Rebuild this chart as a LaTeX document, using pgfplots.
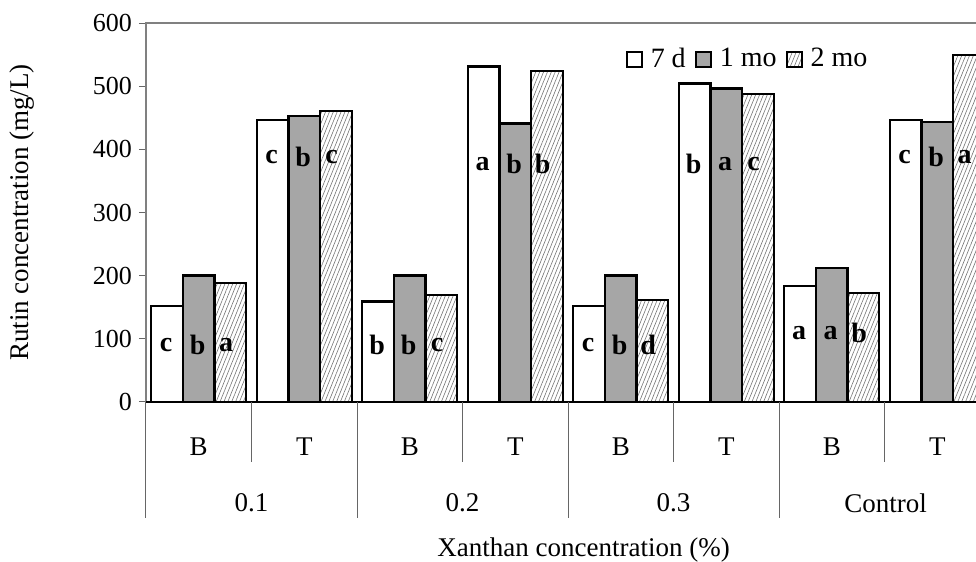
\documentclass[border=0pt]{standalone}
\usepackage{pgfplots}
\pgfplotsset{compat=1.18}
\usepackage{fontspec}
\setmainfont{Liberation Serif}
\usetikzlibrary{patterns.meta}
\definecolor{barGray}{RGB}{166,166,166}
\begin{document}
\begin{tikzpicture}
\begin{axis}[
  name=ax, at={(0,0)}, anchor=south west,
  scale only axis, width=416pt, height=189.5pt,
  xmin=-0.5, xmax=7.386, ymin=0, ymax=600,
  ytick={0,100,...,600}, xtick=\empty,
  ytick pos=left, tick align=outside, major tick length=3.5pt,
  every tick/.style={black!60, line width=0.5pt},
  axis line style={black!50, line width=0.6pt},
  /pgf/number format/assume math mode=true,
  yticklabel style={font=\fontsize{13}{15}\selectfont},
  clip mode=individual,
  ylabel={Rutin concentration (mg/L)},
  xlabel={Xanthan concentration (\%)},
  every axis y label/.style={at={(axis description cs:-0.149,0.5)}, rotate=90, anchor=center, font=\fontsize{13.5}{16}\selectfont},
  every axis x label/.style={at={(axis description cs:0.526,-0.3905)}, anchor=center, font=\fontsize{13.5}{16}\selectfont},
  legend columns=3,
  legend style={at={(0.723,0.905)}, anchor=center, draw=none, fill=none,
    font=\fontsize{14}{16}\selectfont, inner sep=0pt,
    /tikz/every even column/.append style={column sep=3.5pt},
    nodes={inner sep=1pt}},
  legend image code/.code={\draw[#1, line width=1pt] (0pt,-3.75pt) rectangle (7.5pt,3.75pt);},
]
\addplot[ybar, bar width=0.3, bar shift=-0.3, draw=black, line width=1.2pt, fill=white]
  coordinates {(0,152) (1,446) (2,159) (3,531) (4,152) (5,504.5) (6,183.6) (7,446)};
\addlegendentry{\hspace*{3pt}7 d}
\addplot[ybar, bar width=0.3, bar shift=0, draw=black, line width=1.2pt, fill=barGray]
  coordinates {(0,200.5) (1,453) (2,200) (3,441) (4,200.5) (5,496.5) (6,212.6) (7,443.7)};
\addlegendentry{\hspace*{3pt}1 mo}
\addplot[ybar, bar width=0.3, bar shift=0.3, draw=black, line width=1.2pt, fill=white,
  postaction={pattern={Lines[angle=68,distance=1.8pt,line width=0.3pt]}, pattern color=black!55}]
  coordinates {(0,188) (1,461) (2,169) (3,524) (4,161.5) (5,487.5) (6,173) (7,549)};
\addlegendentry{\hspace*{3pt}2 mo}
\addplot[forget plot, draw=none, mark=none, nodes near coords, point meta=explicit symbolic,
  nodes near coords style={font=\bfseries\fontsize{14}{16}\selectfont, anchor=center, inner sep=0pt, text=black}]
  table[meta=l] {
x y l
-0.31 90 c
-0.01 90 b
0.26 90 a
0.69 388 c
0.99 388 b
1.26 388 c
1.69 90 b
1.99 90 b
2.26 90 c
2.69 377 a
2.99 377 b
3.26 377 b
3.69 90 c
3.99 90 b
4.26 90 d
4.69 377 b
4.99 377 a
5.26 377 c
5.69 109 a
5.99 109 a
6.26 109 b
6.69 388 c
6.99 388 b
7.26 388 a
};
\draw[black, line width=1.2pt] (axis cs:-0.5,0) -- (axis cs:7.4,0);
\draw[black!60, line width=0.5pt] (axis cs:-0.5,0) -- ++(0pt,-58pt);
\draw[black!60, line width=0.5pt] (axis cs:1.5,0) -- ++(0pt,-58pt);
\draw[black!60, line width=0.5pt] (axis cs:3.5,0) -- ++(0pt,-58pt);
\draw[black!60, line width=0.5pt] (axis cs:5.5,0) -- ++(0pt,-58pt);
\draw[black!60, line width=0.5pt] (axis cs:0.5,0) -- ++(0pt,-30pt);
\draw[black!60, line width=0.5pt] (axis cs:2.5,0) -- ++(0pt,-30pt);
\draw[black!60, line width=0.5pt] (axis cs:4.5,0) -- ++(0pt,-30pt);
\draw[black!60, line width=0.5pt] (axis cs:6.5,0) -- ++(0pt,-30pt);
\node[font=\fontsize{13.5}{16}\selectfont] at ([yshift=-22.5pt]axis cs:0,0) {B};
\node[font=\fontsize{13.5}{16}\selectfont] at ([yshift=-22.5pt]axis cs:1,0) {T};
\node[font=\fontsize{13.5}{16}\selectfont] at ([yshift=-22.5pt]axis cs:2,0) {B};
\node[font=\fontsize{13.5}{16}\selectfont] at ([yshift=-22.5pt]axis cs:3,0) {T};
\node[font=\fontsize{13.5}{16}\selectfont] at ([yshift=-22.5pt]axis cs:4,0) {B};
\node[font=\fontsize{13.5}{16}\selectfont] at ([yshift=-22.5pt]axis cs:5,0) {T};
\node[font=\fontsize{13.5}{16}\selectfont] at ([yshift=-22.5pt]axis cs:6,0) {B};
\node[font=\fontsize{13.5}{16}\selectfont] at ([yshift=-22.5pt]axis cs:7,0) {T};
\node[font=\fontsize{13.5}{16}\selectfont] at ([yshift=-50.5pt]axis cs:0.5,0) {0.1};
\node[font=\fontsize{13.5}{16}\selectfont] at ([yshift=-50.5pt]axis cs:2.5,0) {0.2};
\node[font=\fontsize{13.5}{16}\selectfont] at ([yshift=-50.5pt]axis cs:4.5,0) {0.3};
\node[font=\fontsize{13.5}{16}\selectfont] at ([yshift=-50.5pt]axis cs:6.51,0) {Control};
\end{axis}
\pgfresetboundingbox
\path[use as bounding box] ([xshift=-73pt,yshift=-80pt]ax.south west) rectangle ([xshift=415pt,yshift=201pt]ax.south west);
\end{tikzpicture}
\end{document}
